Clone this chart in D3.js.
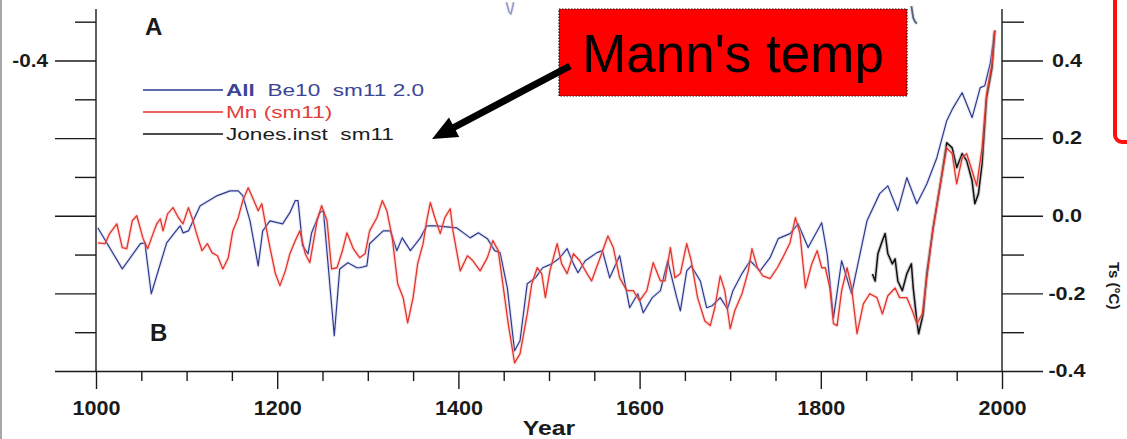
<!DOCTYPE html>
<html>
<head>
<meta charset="utf-8">
<script src="https://cdn.jsdelivr.net/npm/d3@7"></script>
<style>
  html, body { margin: 0; padding: 0; background: #fff; }
  svg { display: block; font-family: "Liberation Sans", Arial, Helvetica, sans-serif; }
</style>
</head>
<body>
<svg id="chart" width="1127" height="439"></svg>
<script>
// ---- Series: reconstructed temperature anomalies (°C) ----
const beYears = [1002,1029,1049,1054,1061,1078,1091,1093,1096,1102,1115,1134,1148,1157,1162,1170,1179,1184,1192,1206,
  1214,1220,1223,1228,1234,1238,1247,1251,1263,1269,1278,1288,1291,1299,1302,1317,1325,1332,1338,1347,
  1358,1365,1376,1398,1413,1422,1432,1440,1446,1454,1462,1468,1476,1485,1493,1503,1512,1520,1527,1532,
  1540,1553,1559,1567,1578,1589,1598,1604,1614,1623,1631,1641,1645,1652,1657,1667,1674,1680,1689,1697,
  1703,1713,1722,1733,1744,1753,1766,1775,1786,1801,1807,1814,1823,1834,1851,1865,1874,1885,1895,1906,
  1917,1928,1939,1946,1956,1967,1976,1981,1987,1992];
const beValues = [-0.031,-0.137,-0.072,-0.070,-0.201,-0.070,-0.031,-0.026,-0.044,-0.039,0.026,0.052,0.064,0.064,0.052,-0.013,-0.129,-0.039,-0.013,-0.021,
  0.008,0.039,0.039,-0.077,-0.098,-0.044,0.008,0.013,-0.309,-0.137,-0.121,-0.134,-0.134,-0.129,-0.072,-0.039,-0.039,-0.090,-0.057,-0.090,
  -0.057,-0.026,-0.026,-0.031,-0.057,-0.044,-0.059,-0.090,-0.095,-0.186,-0.348,-0.322,-0.175,-0.160,-0.134,-0.124,-0.108,-0.085,-0.124,-0.147,
  -0.116,-0.095,-0.090,-0.160,-0.103,-0.237,-0.201,-0.250,-0.211,-0.193,-0.116,-0.211,-0.245,-0.142,-0.129,-0.168,-0.237,-0.232,-0.211,-0.240,
  -0.193,-0.149,-0.116,-0.142,-0.108,-0.059,-0.046,-0.021,-0.082,-0.018,-0.098,-0.263,-0.116,-0.201,-0.013,0.057,0.077,0.013,0.098,0.031,
  0.082,0.149,0.245,0.278,0.317,0.253,0.330,0.335,0.392,0.477];

const mnYears = [1002,1010,1015,1023,1029,1034,1040,1045,1049,1052,1057,1063,1067,1071,1074,1079,1085,1091,1096,1102,
  1106,1111,1117,1123,1128,1134,1140,1146,1151,1157,1162,1168,1173,1179,1183,1187,1192,1198,1203,1209,
  1214,1220,1225,1231,1236,1244,1249,1255,1260,1266,1272,1277,1284,1291,1297,1302,1310,1316,1321,1327,
  1333,1339,1344,1350,1355,1361,1365,1369,1374,1380,1385,1391,1394,1402,1410,1416,1424,1432,1438,1444,
  1449,1455,1462,1468,1476,1481,1487,1492,1496,1501,1509,1514,1520,1527,1534,1542,1547,1556,1565,1571,
  1578,1586,1593,1600,1608,1615,1623,1628,1634,1639,1645,1652,1657,1664,1672,1678,1683,1689,1694,1700,
  1705,1713,1720,1724,1730,1736,1744,1752,1758,1766,1772,1777,1783,1790,1796,1801,1805,1810,1814,1818,
  1823,1829,1834,1840,1847,1854,1862,1868,1874,1882,1887,1895,1901,1906,1912,1917,1924,1932,1939,1945,
  1950,1956,1961,1967,1972,1978,1983,1989,1992];
const mnValues = [-0.070,-0.072,-0.046,-0.021,-0.082,-0.085,-0.013,0.000,-0.034,-0.059,-0.085,-0.046,-0.021,-0.008,-0.039,0.005,0.021,-0.005,-0.021,0.021,
  -0.005,-0.046,-0.090,-0.072,-0.095,-0.103,-0.137,-0.108,-0.039,-0.005,0.039,0.072,0.046,0.013,0.031,-0.021,-0.082,-0.149,-0.180,-0.142,
  -0.098,-0.064,-0.039,-0.098,-0.121,-0.013,0.026,-0.013,-0.137,-0.134,-0.090,-0.044,-0.085,-0.108,-0.098,-0.039,-0.005,0.039,0.013,-0.057,
  -0.175,-0.211,-0.276,-0.211,-0.124,-0.072,-0.013,0.034,-0.005,-0.046,-0.005,0.018,-0.039,-0.142,-0.103,-0.116,-0.142,-0.108,-0.064,-0.090,
  -0.175,-0.278,-0.379,-0.356,-0.253,-0.175,-0.134,-0.149,-0.211,-0.142,-0.072,-0.124,-0.149,-0.098,-0.116,-0.149,-0.168,-0.111,-0.052,-0.082,
  -0.160,-0.193,-0.193,-0.219,-0.193,-0.121,-0.168,-0.168,-0.082,-0.160,-0.149,-0.072,-0.116,-0.211,-0.271,-0.283,-0.237,-0.155,-0.193,-0.291,
  -0.245,-0.201,-0.142,-0.085,-0.134,-0.155,-0.162,-0.134,-0.108,-0.070,-0.005,-0.046,-0.186,-0.124,-0.090,-0.134,-0.134,-0.186,-0.278,-0.283,
  -0.193,-0.134,-0.186,-0.304,-0.227,-0.201,-0.211,-0.253,-0.206,-0.186,-0.211,-0.211,-0.245,-0.278,-0.253,-0.160,-0.031,0.082,0.175,0.160,
  0.082,0.149,0.160,0.116,0.077,0.175,0.314,0.392,0.477];

const jonesYears = [1857,1860,1863,1868,1871,1874,1879,1882,1885,1890,1895,1900,1902,1906,1908,1913,1917,1924,1932,1939,
  1945,1950,1956,1961,1967,1970,1974,1978,1983,1989,1992];
const jonesValues = [-0.150,-0.168,-0.098,-0.064,-0.046,-0.098,-0.124,-0.111,-0.168,-0.193,-0.149,-0.124,-0.186,-0.271,-0.304,-0.253,-0.149,-0.031,0.082,0.188,
  0.175,0.124,0.160,0.142,0.090,0.031,0.057,0.134,0.304,0.381,0.477];

// Lower ends of the upper panel's curves, cut by the top edge
const upperBeYears = [1453,1456,1458,1461];
const upperBeValues = [0.55,0.525,0.52,0.55];
const upperDarkYears = [1900,1902,1904,1906];
const upperDarkValues = [0.54,0.51,0.50,0.495];

// ---- Axes ----
const yearTicks = [1000,1200,1400,1600,1800,2000];
const yearMinorTicks = [1050,1100,1150,1250,1300,1350,1450,1500,1550,1650,1700,1750,1850,1900,1950];
const tempTicks = [-0.4,-0.2,0.0,0.2,0.4];
const tempTickLabels = ["-0.4","-0.2","0.0","0.2","0.4"];
const tempMinorTicks = [-0.3,-0.1,0.1,0.3,0.5];
const leftTickLabels = ["","","","","-0.4"];

const legendLabels = [
  { lead: "All", rest: "  Be10  sm11 2.0", stroke: "#2d3a8c", text: "#3b4596" },
  { lead: "", rest: "Mn (sm11)", stroke: "#e3342c", text: "#e0403a" },
  { lead: "", rest: "Jones.inst  sm11", stroke: "#111", text: "#1c1c1c" }
];

const svg = d3.select("#chart");
const ink = "#1a1a1a";

const x = d3.scaleLinear().domain([1000, 2000]).range([96, 1002]);
const y = d3.scaleLinear().domain([-0.4, 0.4]).range([371, 60.5]);

// widen text horizontally about its anchor x
function widen(sel, sx) {
  sel.each(function () {
    const t = d3.select(this);
    const ax = +t.attr("x") || 0;
    t.attr("transform", `translate(${ax},0) scale(${sx},1) translate(${-ax},0)`);
  });
}

// thin frame line at the far left
svg.append("line").attr("x1", 1).attr("x2", 1).attr("y1", 0).attr("y2", 439)
  .attr("stroke", "#8a8a8a").attr("stroke-width", 1.5);

// ---- series lines ----
const line = d3.line().x(d => x(d[0])).y(d => y(d[1]));
const zip = (a, b) => a.map((v, i) => [v, b[i]]);

function drawSeries(data, color, halo, w, opacity = 1) {
  svg.append("path").datum(data).attr("d", line)
    .attr("fill", "none").attr("stroke", halo).attr("stroke-width", w + 2.2)
    .attr("stroke-opacity", 0.35 * opacity).attr("stroke-linejoin", "round");
  svg.append("path").datum(data).attr("d", line)
    .attr("fill", "none").attr("stroke", color).attr("stroke-width", w)
    .attr("stroke-opacity", opacity).attr("stroke-linejoin", "round");
}

drawSeries(zip(upperBeYears, upperBeValues), "#6a72b0", "#c7cbe6", 1.6, 0.7);
drawSeries(zip(upperDarkYears, upperDarkValues), "#3a3f58", "#9aa0c0", 1.8, 0.8);
drawSeries(zip(beYears, beValues), "#2d3a8c", "#b9c0e4", 1.2);
drawSeries(zip(jonesYears, jonesValues), "#111", "#777", 1.5);
drawSeries(zip(mnYears, mnValues), "#e3342c", "#f7a6a0", 1.3);

// ---- axes ----
function styleAxis(g) {
  g.selectAll("line").attr("stroke", ink).attr("stroke-width", 1.4);
  g.selectAll("path").attr("stroke", ink).attr("stroke-width", 1.4);
  g.selectAll("text").attr("fill", ink).attr("font-weight", "bold");
}

// vertical axis lines (run a little above the top tick)
svg.append("line").attr("x1", 96).attr("x2", 96).attr("y1", 9).attr("y2", 371)
  .attr("stroke", ink).attr("stroke-width", 1.4);
svg.append("line").attr("x1", 1002).attr("x2", 1002).attr("y1", 9).attr("y2", 371)
  .attr("stroke", ink).attr("stroke-width", 1.4);

// bottom (year) axis
const xMajor = svg.append("g").attr("transform", "translate(0,371)")
  .call(d3.axisBottom(x).tickValues(yearTicks).tickSize(18).tickSizeOuter(0).tickPadding(12)
    .tickFormat(d3.format("d")));
xMajor.call(styleAxis);
xMajor.selectAll("text").attr("font-size", 20);
widen(xMajor.selectAll("text"), 1.08);

const xMinor = svg.append("g").attr("transform", "translate(0,371)")
  .call(d3.axisBottom(x).tickValues(yearMinorTicks).tickSize(10).tickFormat(""));
xMinor.select(".domain").remove();
xMinor.call(styleAxis);

// right (temperature) axis
const yRight = svg.append("g").attr("transform", "translate(1002,0)")
  .call(d3.axisRight(y).tickValues(tempTicks).tickSize(41).tickPadding(24)
    .tickFormat((d, i) => tempTickLabels[i]));
yRight.select(".domain").remove();
yRight.call(styleAxis);
yRight.selectAll("text").attr("font-size", 18).attr("text-anchor", "middle");
widen(yRight.selectAll("text"), 1.2);

const yRightMinor = svg.append("g").attr("transform", "translate(1002,0)")
  .call(d3.axisRight(y).tickValues(tempMinorTicks).tickSize(22).tickFormat(""));
yRightMinor.select(".domain").remove();
yRightMinor.call(styleAxis);

// left axis
const yLeft = svg.append("g").attr("transform", "translate(96,0)")
  .call(d3.axisLeft(y).tickValues(tempTicks).tickSize(41).tickPadding(7)
    .tickFormat((d, i) => leftTickLabels[i]));
yLeft.select(".domain").remove();
yLeft.call(styleAxis);
yLeft.selectAll("text").attr("font-size", 18);
widen(yLeft.selectAll("text"), 1.15);

const yLeftMinor = svg.append("g").attr("transform", "translate(96,0)")
  .call(d3.axisLeft(y).tickValues(tempMinorTicks).tickSize(21).tickFormat(""));
yLeftMinor.select(".domain").remove();
yLeftMinor.call(styleAxis);

// axis title
const yearTitle = svg.append("text").attr("x", 549).attr("y", 435)
  .attr("text-anchor", "middle").attr("font-size", 21).attr("font-weight", "bold")
  .attr("fill", ink).text("Year");
widen(yearTitle, 1.18);

// right axis title, rotated
svg.append("text").attr("transform", "translate(1109,262) rotate(90)")
  .attr("font-size", 15).attr("font-weight", "bold").attr("fill", ink)
  .text("Ts (°C)");

// panel letters
svg.append("text").attr("x", 145).attr("y", 35).attr("font-size", 24)
  .attr("font-weight", "bold").attr("fill", ink).text("A");
svg.append("text").attr("x", 150).attr("y", 341).attr("font-size", 24)
  .attr("font-weight", "bold").attr("fill", ink).text("B");

// ---- legend ----
const legend = svg.append("g");
legendLabels.forEach((d, i) => {
  const ly = 90 + i * 22;
  legend.append("line").attr("x1", 143).attr("x2", 223).attr("y1", ly).attr("y2", ly)
    .attr("stroke", d.stroke).attr("stroke-width", 1.3);
  const t = legend.append("text").attr("x", 226).attr("y", ly + 6)
    .attr("font-size", 17).attr("fill", d.text).attr("xml:space", "preserve")
    .style("white-space", "pre");
  if (d.lead) t.append("tspan").attr("font-weight", "bold").text(d.lead);
  t.append("tspan").text(d.rest);
  widen(t, 1.33);
});

// ---- callout ----
svg.append("rect").attr("x", 559).attr("y", 9).attr("width", 348).attr("height", 87)
  .attr("fill", "#ff0000").attr("stroke", "#111").attr("stroke-width", 1.2)
  .attr("stroke-dasharray", "1.5,1.5");
svg.append("text").attr("x", 733).attr("y", 72).attr("text-anchor", "middle")
  .attr("font-size", 53).attr("fill", "#000").text("Mann's temp");

// callout arrow
const from = [570, 66], tip = [432, 139];
const dx = tip[0] - from[0], dy = tip[1] - from[1];
const len = Math.hypot(dx, dy), ux = dx / len, uy = dy / len;
const headLen = 25, headHalf = 11;
const base = [tip[0] - ux * headLen, tip[1] - uy * headLen];
svg.append("line").attr("x1", from[0]).attr("y1", from[1])
  .attr("x2", base[0] + ux * 2).attr("y2", base[1] + uy * 2)
  .attr("stroke", "#000").attr("stroke-width", 7);
svg.append("path").attr("fill", "#000")
  .attr("d", `M${tip[0]},${tip[1]} L${base[0] - uy * headHalf},${base[1] + ux * headHalf} L${base[0] + uy * headHalf},${base[1] - ux * headHalf} Z`);

// red-bordered box at the right edge
svg.append("rect").attr("x", 1115).attr("y", -20).attr("width", 60).attr("height", 162)
  .attr("rx", 7).attr("fill", "#fff").attr("stroke", "#ff1010").attr("stroke-width", 4);
</script>
</body>
</html>
